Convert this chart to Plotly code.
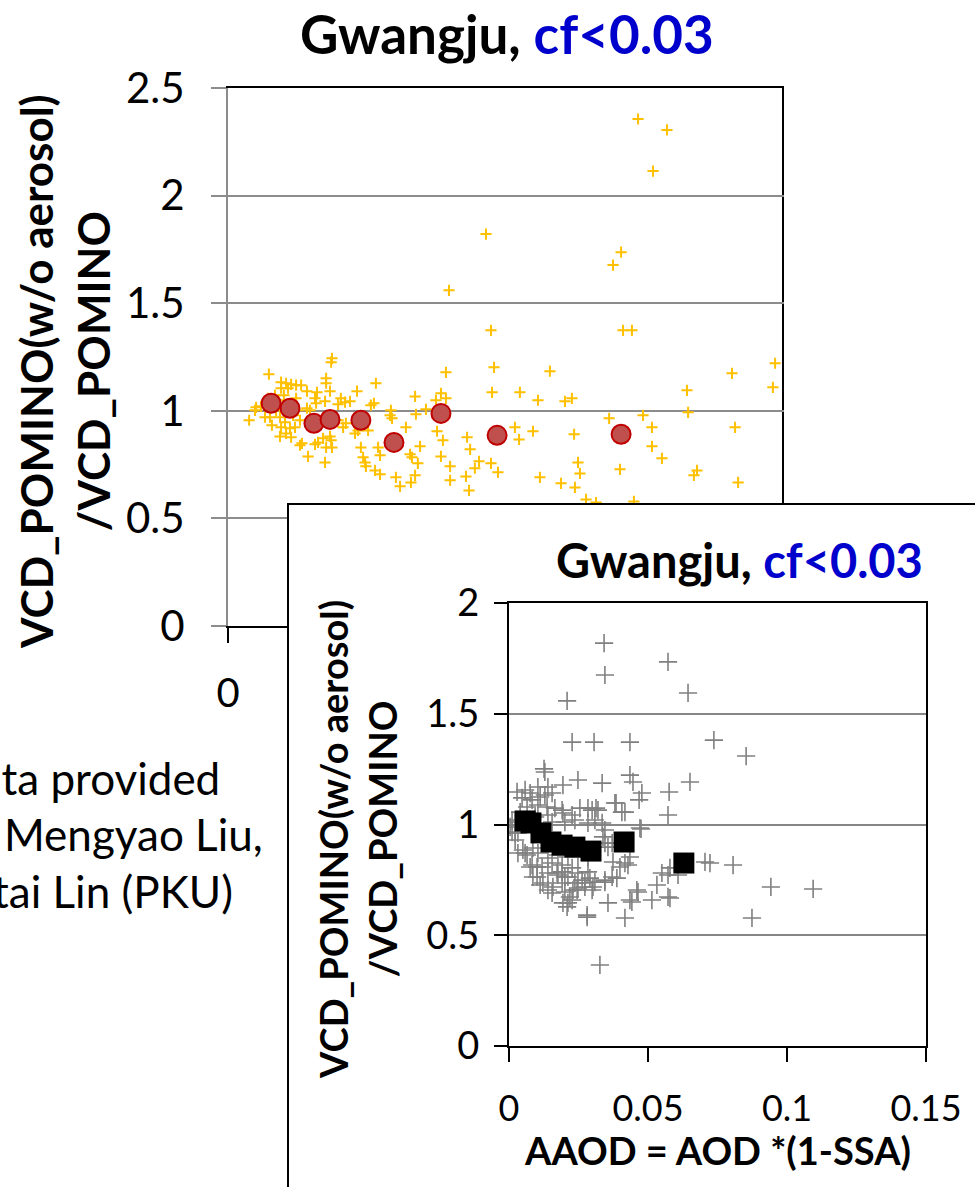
import plotly.graph_objects as go

W, H = 975, 1187
FONT = "Lato, 'Open Sans', sans-serif"
GOLD = "#FFC000"
GRID = "#8C8C8C"
BLUE = "#0000CC"

# ---------------- top chart: all samples (gold crosses) ----------------
top_x = [1.475, 1.579, 1.529, 0.928, 1.414, 1.385, 0.795, 0.946, 1.421, 1.453,
         0.374, 0.371, 0.957, 0.147, 0.784, 0.353, 0.353, 0.532, 0.191, 0.209,
         0.227, 0.245, 0.263, 0.191, 0.216, 0.284, 0.320, 0.367, 0.464, 0.950,
         0.673, 0.766, 0.784, 0.748, 0.313, 0.349, 0.406, 0.439, 0.396, 0.421,
         0.317, 0.514, 0.525, 0.101, 0.097, 0.119, 0.295, 0.284, 0.586, 0.583,
         0.590, 0.676, 0.712, 0.076, 0.133, 0.151, 0.187, 0.205, 0.241, 0.223,
         0.191, 0.209, 0.396, 0.424, 0.414, 0.640, 0.187, 0.227, 0.367, 0.371,
         0.266, 0.259, 0.313, 0.324, 0.342, 0.353, 0.374, 0.457, 0.468, 0.504,
         0.478, 0.540, 0.547, 0.691, 0.752, 0.773, 0.860, 0.871, 0.288, 0.349,
         0.486, 0.493, 0.496, 0.655, 0.662, 0.683, 0.673, 0.658, 0.766, 0.799,
         0.799, 0.903, 0.888, 0.946, 0.971, 0.529, 0.547, 0.604, 0.619, 0.856,
         0.867,
         1.158, 1.968, 1.813, 1.050, 1.115, 1.212, 1.237, 1.651, 1.960, 1.655,
         1.371, 1.493, 1.032, 1.097, 1.047, 1.245, 1.525, 1.824, 1.525, 1.561,
         1.259, 1.266, 1.410, 1.122, 1.198, 1.248, 1.687, 1.676, 1.835, 1.288,
         1.324, 1.460,
         0.169, 0.180, 0.201, 0.230, 0.252, 0.144, 0.173, 0.205, 0.234, 0.259,
         0.158, 0.245]
top_y = [2.356, 2.305, 2.114, 1.821, 1.737, 1.677, 1.560, 1.374, 1.374, 1.374,
         1.244, 1.226, 1.202, 1.170, 1.179, 1.151, 1.128, 1.128, 1.133, 1.128,
         1.123, 1.119, 1.119, 1.105, 1.105, 1.091, 1.086, 1.091, 1.091, 1.086,
         1.067, 1.081, 1.058, 1.049, 1.058, 1.044, 1.058, 1.044, 1.030, 1.040,
         1.035, 1.026, 1.035, 1.016, 1.002, 1.021, 1.002, 1.012, 1.002, 0.979,
         0.965, 0.984, 1.007, 0.956, 0.970, 0.970, 0.970, 0.947, 0.923, 0.919,
         0.923, 0.895, 0.956, 0.942, 0.923, 0.923, 0.881, 0.877, 0.881, 0.863,
         0.849, 0.840, 0.844, 0.853, 0.872, 0.830, 0.830, 0.895, 0.909, 0.909,
         0.830, 0.830, 0.793, 0.835, 0.905, 0.863, 0.877, 0.821, 0.788, 0.760,
         0.784, 0.760, 0.742, 0.798, 0.784, 0.756, 0.700, 0.667, 0.788, 0.742,
         0.677, 0.765, 0.733, 0.756, 0.714, 0.723, 0.705, 0.691, 0.649, 0.695,
         0.630,
         1.184, 1.221, 1.174, 1.086, 1.049, 1.044, 1.058, 1.095, 1.109, 0.993,
         0.965, 0.979, 0.923, 0.905, 0.867, 0.891, 0.923, 0.923, 0.835, 0.779,
         0.760, 0.709, 0.728, 0.691, 0.663, 0.644, 0.723, 0.700, 0.667, 0.588,
         0.574, 0.579,
         1.072, 1.049, 1.072, 1.026, 1.002, 1.058, 1.002, 0.993, 0.979, 0.956,
         0.933, 1.058]

# binned means (red circles)
top_bin_x = [0.155, 0.223, 0.309, 0.367, 0.478, 0.597, 0.766, 0.968, 1.414]
top_bin_y = [1.035, 1.012, 0.942, 0.960, 0.956, 0.853, 0.988, 0.886, 0.891]

top_xticks = [0, 0.5, 1, 1.5, 2]
top_xticklabels = ["0", "0.5", "1", "1.5", "2"]
top_yticks = [0, 0.5, 1, 1.5, 2, 2.5]
top_yticklabels = ["0", "0.5", "1", "1.5", "2", "2.5"]

# ---------------- inset chart: AAOD (gray crosses) ----------------
ins_x = [0.0342, 0.0572, 0.0345, 0.0644, 0.0209, 0.0227, 0.0306, 0.0435, 0.0737, 0.0853,
         0.0129, 0.0126, 0.0248, 0.0194, 0.0335, 0.0435, 0.0446, 0.0478, 0.0468, 0.0576,
         0.0651, 0.0385, 0.0417, 0.0572, 0.0475, 0.0313, 0.0299,
         0.0705, 0.0723, 0.0806, 0.0942, 0.1094, 0.0874, 0.0327,
         0.0281, 0.0417, 0.0356, 0.0435, 0.0460, 0.0514, 0.0579, 0.0532, 0.0550, 0.0579,
         0.0608, 0.0388, 0.0345, 0.0417, 0.0435, 0.0374, 0.0345, 0.0219, 0.0212, 0.0230,
         0.0248, 0.0263, 0.0291, 0.0302, 0.0173, 0.0191, 0.0201, 0.0140, 0.0112, 0.0086,
         0.0076, 0.0101, 0.0050, 0.0065, 0.0022, 0.0004,
         0.0058, 0.0076, 0.0047, 0.0083, 0.0112, 0.0129, 0.0155, 0.0065, 0.0104, 0.0137,
         0.0165, 0.0191, 0.0040, 0.0094, 0.0140, 0.0194, 0.0227, 0.0255, 0.0284, 0.0320,
         0.0381, 0.0406, 0.0309, 0.0335, 0.0284, 0.0155, 0.0201, 0.0237, 0.0011, 0.0032,
         0.0022, 0.0345, 0.0338, 0.0471, 0.0371, 0.0356, 0.0428, 0.0399, 0.0086, 0.0104,
         0.0058, 0.0032, 0.0140, 0.0176, 0.0212, 0.0248, 0.0284, 0.0083, 0.0119, 0.0155,
         0.0191, 0.0227, 0.0101, 0.0140, 0.0176, 0.0212, 0.0248, 0.0284, 0.0122, 0.0158,
         0.0191, 0.0237, 0.0273, 0.0309, 0.0345, 0.0371, 0.0155, 0.0201, 0.0245, 0.0273,
         0.0299, 0.0227, 0.0194, 0.0209, 0.0281, 0.0442, 0.0464, 0.0572, 0.0572, 0.0011,
         0.0022, 0.0104, 0.0140, 0.0029]
ins_y = [1.819, 1.734, 1.675, 1.594, 1.558, 1.372, 1.372, 1.372, 1.381, 1.309,
         1.237, 1.251, 1.201, 1.178, 1.187, 1.223, 1.192, 1.142, 1.111, 1.147,
         1.192, 1.097, 1.056, 1.043, 0.980, 1.074, 1.065,
         0.831, 0.826, 0.817, 0.718, 0.709, 0.578, 0.366,
         0.582, 0.578, 0.646, 0.659, 0.704, 0.659, 0.668, 0.727, 0.781, 0.804,
         0.772, 0.758, 0.740, 0.826, 0.853, 0.831, 0.916, 0.673, 0.646, 0.704,
         0.713, 0.749, 0.758, 0.718, 0.781, 0.786, 0.763, 0.704, 0.727, 0.763,
         0.808, 0.808, 0.885, 0.862, 0.962, 0.989,
         1.156, 1.142, 1.120, 1.111, 1.124, 1.133, 1.142, 1.079, 1.088, 1.079,
         1.074, 1.065, 1.056, 1.034, 1.043, 1.052, 1.043, 1.074, 1.074, 1.065,
         1.097, 1.056, 1.020, 1.007, 1.007, 1.011, 1.011, 1.020, 0.966, 0.962,
         0.930, 0.975, 0.944, 0.984, 0.916, 0.898, 0.817, 0.808, 0.894, 0.871,
         0.871, 0.871, 0.849, 0.862, 0.853, 0.862, 0.853, 0.817, 0.808, 0.826,
         0.817, 0.804, 0.763, 0.781, 0.772, 0.763, 0.781, 0.786, 0.736, 0.718,
         0.736, 0.736, 0.736, 0.740, 0.749, 0.763, 0.691, 0.695, 0.704, 0.718,
         0.704, 0.659, 0.646, 0.628, 0.591, 0.650, 0.695, 0.772, 0.673, 1.020,
         1.011, 1.169, 1.169, 1.147]

# binned means (black squares)
ins_bin_x = [0.0058, 0.0079, 0.0115, 0.0151, 0.0191, 0.0237, 0.0295, 0.0414, 0.0629]
ins_bin_y = [1.016, 1.007, 0.962, 0.921, 0.907, 0.898, 0.880, 0.921, 0.826]

ins_xticks = [0, 0.05, 0.1, 0.15]
ins_xticklabels = ["0", "0.05", "0.1", "0.15"]
ins_yticks = [0, 0.5, 1, 1.5, 2]
ins_yticklabels = ["0", "0.5", "1", "1.5", "2"]

title_main = "Gwangju, "
title_cf = "cf&lt;0.03"
ytitle_l1 = "VCD_POMINO(w/o aerosol)"
ytitle_l2 = "/VCD_POMINO"
xtitle_inset = "AAOD = AOD *(1-SSA)"
note_lines = ["Data provided", "by Mengyao Liu,", "Jintai Lin (PKU)"]


def fx(p):
    return p / W


def fy(p):
    return 1 - p / H


fig = go.Figure()

fig.add_trace(go.Scatter(
    x=top_x, y=top_y, mode="markers", xaxis="x", yaxis="y",
    marker=dict(symbol="cross-thin", size=8, line=dict(color=GOLD, width=2), color=GOLD),
    hoverinfo="skip"))
fig.add_trace(go.Scatter(
    x=top_bin_x, y=top_bin_y, mode="markers", xaxis="x", yaxis="y",
    marker=dict(symbol="circle", size=19, color="#C0504D", line=dict(color="#C00000", width=2)),
    hoverinfo="skip"))

# empty trace that creates the white panel which holds the inset
fig.add_trace(go.Scatter(x=[None], y=[None], xaxis="x2", yaxis="y2",
                         mode="markers", hoverinfo="skip"))

fig.add_trace(go.Scatter(
    x=ins_x, y=ins_y, mode="markers", xaxis="x3", yaxis="y3",
    marker=dict(symbol="cross-thin", size=13, line=dict(color="#808080", width=1.6), color="#808080"),
    hoverinfo="skip"))
fig.add_trace(go.Scatter(
    x=ins_bin_x, y=ins_bin_y, mode="markers", xaxis="x3", yaxis="y3",
    marker=dict(symbol="square", size=21, color="black", line=dict(width=0)),
    hoverinfo="skip"))

fig.update_layout(
    template="none",
    width=W, height=H, margin=dict(l=0, r=0, t=0, b=0, pad=0, autoexpand=False),
    paper_bgcolor="white", plot_bgcolor="white", showlegend=False,
    font=dict(family=FONT, color="black"),
    xaxis=dict(domain=[fx(228), fx(784)], anchor="y", range=[0, 2], automargin=False,
               tickvals=top_xticks, ticktext=top_xticklabels,
               showline=True, linecolor="black", linewidth=2, mirror=True,
               ticks="outside", ticklen=15, tickwidth=2, tickcolor="black",
               ticklabelstandoff=16,
               showgrid=False, zeroline=False, tickfont=dict(size=40)),
    yaxis=dict(domain=[fy(626), fy(88)], anchor="x", range=[0, 2.5], automargin=False,
               tickvals=top_yticks, ticktext=top_yticklabels,
               showline=True, linecolor=GRID, linewidth=2,
               ticks="outside", ticklen=15, tickwidth=2, tickcolor=GRID,
               ticklabelstandoff=18,
               showgrid=True, gridcolor=GRID, gridwidth=2, zeroline=False,
               tickfont=dict(size=42)),
    xaxis2=dict(domain=[fx(289), 1], anchor="y2", range=[0, 1], side="top", automargin=False,
                showline=True, linecolor="black", linewidth=2,
                showticklabels=False, ticks="", showgrid=False, zeroline=False),
    yaxis2=dict(domain=[0, fy(505)], anchor="x2", range=[0, 1], side="left", automargin=False,
                showline=True, linecolor="black", linewidth=2,
                showticklabels=False, ticks="", showgrid=False, zeroline=False),
    xaxis3=dict(domain=[fx(509), fx(926)], anchor="y3", range=[0, 0.15], automargin=False,
                tickvals=ins_xticks, ticktext=ins_xticklabels,
                showline=True, linecolor="black", linewidth=2, mirror=True,
                ticks="outside", ticklen=14, tickwidth=2, tickcolor="black",
                ticklabelstandoff=16,
                showgrid=False, zeroline=False, tickfont=dict(size=36)),
    yaxis3=dict(domain=[fy(1046), fy(603)], anchor="x3", range=[0, 2], automargin=False,
                tickvals=ins_yticks, ticktext=ins_yticklabels,
                showline=True, linecolor="black", linewidth=2, mirror=True,
                ticks="outside", ticklen=13, tickwidth=2, tickcolor="black",
                ticklabelstandoff=7,
                showgrid=True, gridcolor="#868686", gridwidth=1.5, zeroline=False,
                tickfont=dict(size=38)),
)

# right-hand black border of the top chart (kept under the inset panel)
fig.add_shape(type="line", xref="x", yref="y", x0=2, x1=2, y0=0, y1=2.5,
              layer="below", line=dict(color="black", width=4))

ann = []
ann.append(dict(text="<b>" + title_main + "<span style='color:" + BLUE + "'>" + title_cf + "</span></b>",
                x=fx(507), y=fy(33), xref="paper", yref="paper", showarrow=False,
                xanchor="center", yanchor="middle", font=dict(size=53, family=FONT)))
ann.append(dict(text="<b>" + title_main + "<span style='color:" + BLUE + "'>" + title_cf + "</span></b>",
                x=fx(739), y=fy(560), xref="paper", yref="paper", showarrow=False,
                xanchor="center", yanchor="middle", font=dict(size=47, family=FONT)))
ann.append(dict(text="<b>" + ytitle_l1 + "<br>" + ytitle_l2 + "</b>", textangle=-90,
                x=fx(64), y=fy(372), xref="paper", yref="paper", showarrow=False,
                xanchor="center", yanchor="middle", font=dict(size=44, family=FONT)))
ann.append(dict(text="<b>" + ytitle_l1 + "<br>" + ytitle_l2 + "</b>", textangle=-90,
                x=fx(357), y=fy(840), xref="paper", yref="paper", showarrow=False,
                xanchor="center", yanchor="middle", font=dict(size=38, family=FONT)))
ann.append(dict(text="<b>" + xtitle_inset + "</b>",
                x=fx(717), y=fy(1150), xref="paper", yref="paper", showarrow=False,
                xanchor="center", yanchor="middle", font=dict(size=38, family=FONT)))
for line, xr, yc in zip(note_lines, [222, 265, 235], [778, 834, 891]):
    ann.append(dict(text=line, x=fx(xr), y=fy(yc), xref="paper", yref="paper",
                    showarrow=False, xanchor="right", yanchor="middle",
                    font=dict(size=44, family=FONT)))
fig.update_layout(annotations=ann)

fig.write_html("out.html")
